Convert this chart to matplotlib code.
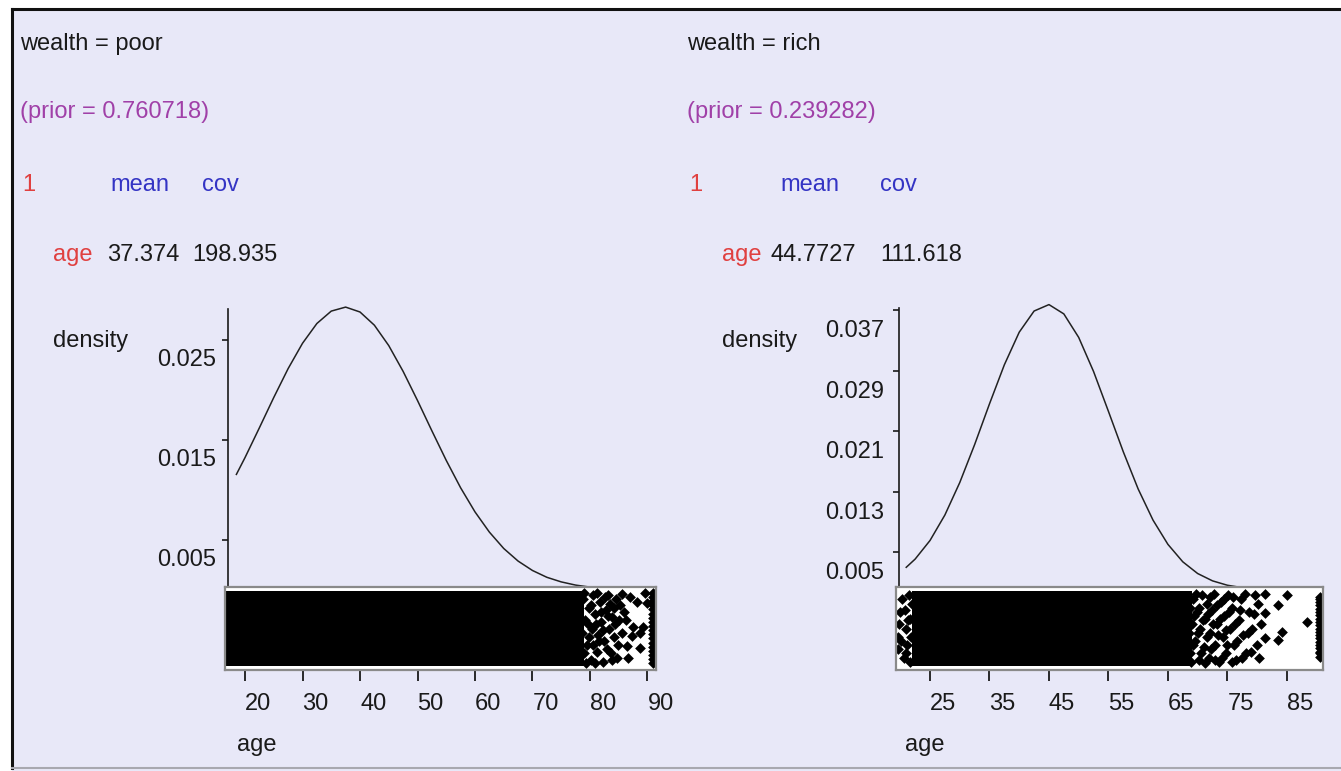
import numpy as np
import matplotlib.pyplot as plt
from matplotlib.transforms import ScaledTranslation
from matplotlib.patches import Rectangle

plt.rcParams['font.family'] = ['Liberation Sans', 'DejaVu Sans']

W, H = 1341, 771
BG = '#e8e8f8'
RED = '#e04040'
BLUE = '#3434c4'
PURPLE = '#a040a8'
INK = '#1a1a1a'

# ---- class "poor" ----
poor_prior = 0.760718
poor_mean = 37.374
poor_cov = 198.935
poor_age = [18.5, 20, 22.5, 25, 27.5, 30, 32.5, 35, 37.5, 40, 42.5, 45, 47.5,
            50, 52.5, 55, 57.5, 60, 62.5, 65, 67.5, 70, 72.5, 75, 77.5, 80]
poor_dens = [0.01156, 0.01324, 0.01622, 0.01925, 0.02214, 0.02467, 0.02665,
             0.02789, 0.02829, 0.02780, 0.02648, 0.02444, 0.02186, 0.01895,
             0.01592, 0.01296, 0.01022, 0.00781, 0.00579, 0.00415, 0.00289,
             0.00195, 0.00127, 0.00081, 0.00049, 0.00029]
poor_yticks = [0.005, 0.015, 0.025]
poor_xticks = [20, 30, 40, 50, 60, 70, 80, 90]
poor_band = (16.6, 79.0)
poor_tail_age = [78.8, 79.2, 79.5, 79.8, 80.1, 80.3, 80.6, 80.9, 81.2, 81.4,
                 81.7, 82.0, 82.3, 82.5, 82.8, 83.1, 83.3, 83.6, 83.9, 84.2,
                 84.5, 84.7, 85.0, 85.5, 86.0, 86.4, 86.6, 87.0, 87.3, 87.5,
                 88.2, 88.7, 88.7, 89.2, 89.5, 89.9,
                 78.6, 78.9, 79.0, 79.3, 79.6, 79.9, 80.2, 80.5, 80.8, 81.0,
                 81.3, 81.6, 81.9, 82.2, 82.6, 82.9, 83.2, 83.5, 83.8, 84.1,
                 84.4, 84.8, 85.2, 85.6, 86.2,
                 91.0, 91.0, 91.0, 91.0, 91.0, 91.0, 91.0, 91.0, 91.0, 91.0,
                 91.0, 91.0, 91.0, 91.0, 91.0, 91.0, 91.0, 91.0]
poor_tail_jit = [0.85, 0.60, 0.30, 0.75, 0.12, 0.50, 0.90, 0.68, 0.22, 0.42,
                 0.82, 0.58, 0.10, 0.35, 0.72, 0.90, 0.50, 0.20, 0.64, 0.40,
                 0.85, 0.15, 0.60, 0.92, 0.70, 0.29, 0.14, 0.88, 0.41, 0.52,
                 0.82, 0.45, 0.26, 0.52, 0.93, 0.81,
                 0.45, 0.20, 0.93, 0.08, 0.55, 0.40, 0.78, 0.30, 0.08, 0.55,
                 0.93, 0.35, 0.70, 0.48, 0.88, 0.25, 0.65, 0.80, 0.12, 0.75,
                 0.55, 0.30, 0.78, 0.45, 0.60,
                 0.08, 0.13, 0.18, 0.23, 0.28, 0.33, 0.38, 0.43, 0.48, 0.53,
                 0.58, 0.63, 0.68, 0.73, 0.78, 0.83, 0.88, 0.93]

# ---- class "rich" ----
rich_prior = 0.239282
rich_mean = 44.7727
rich_cov = 111.618
rich_age = [21, 22.5, 25, 27.5, 30, 32.5, 35, 37.5, 40, 42.5, 45, 47.5, 50,
            52.5, 55, 57.5, 60, 62.5, 65, 67.5, 70, 72.5, 75, 77.5]
rich_dens = [0.00300, 0.00409, 0.00655, 0.00992, 0.01421, 0.01923, 0.02462,
             0.02979, 0.03410, 0.03690, 0.03775, 0.03652, 0.03341, 0.02890,
             0.02363, 0.01828, 0.01336, 0.00924, 0.00604, 0.00373, 0.00218,
             0.00121, 0.00063, 0.00031]
rich_yticks = [0.005, 0.013, 0.021, 0.029, 0.037]
rich_xticks = [25, 35, 45, 55, 65, 75, 85]
rich_band = (22.0, 69.0)
rich_tail_age = [19.6, 19.6, 20.0, 20.3, 20.6, 20.9, 21.2, 21.5, 21.7,
                 19.8, 20.2, 20.8, 21.0, 21.3, 21.6, 21.8, 21.9,
                 68.8, 69.0, 69.3, 69.6, 69.9, 70.2, 70.4, 70.7, 71.0, 71.3,
                 71.6, 71.9, 72.1, 72.4, 72.7, 73.0, 73.3, 73.6, 73.9, 74.2,
                 74.5, 74.8, 75.1, 75.4, 75.8, 76.1, 76.5, 76.9, 77.3, 77.7,
                 78.1, 78.6, 79.1, 79.6, 80.0, 80.4,
                 68.6, 68.7, 68.9, 69.2, 69.4, 69.8, 70.0, 70.3, 70.6, 70.9,
                 71.2, 71.5, 71.8, 72.0, 72.3, 72.6, 72.9, 73.2, 73.5, 73.8,
                 74.1, 74.4, 74.7, 75.0, 75.3, 75.7, 76.0, 76.3, 76.7, 77.1,
                 77.5, 78.0, 78.4, 79.0, 79.4, 80.2, 80.7,
                 81.3, 81.3, 81.3, 83.5, 83.5, 84.2, 85.0, 88.4,
                 90.6, 90.6, 90.6, 90.6, 90.6, 90.6, 90.6, 90.6, 90.6, 90.6,
                 90.6, 90.6, 90.6, 90.6, 90.6, 90.6, 90.6, 90.6, 90.6, 90.6]
rich_tail_jit = [0.25, 0.40, 0.70, 0.85, 0.15, 0.50, 0.30, 0.90, 0.62,
                 0.55, 0.35, 0.72, 0.20, 0.60, 0.10, 0.40, 0.80,
                 0.20, 0.55, 0.85, 0.35, 0.70, 0.12, 0.50, 0.90, 0.28, 0.62,
                 0.80, 0.15, 0.45, 0.72, 0.92, 0.30, 0.55, 0.10, 0.82, 0.40,
                 0.65, 0.20, 0.90, 0.50, 0.75, 0.30, 0.12, 0.60, 0.85, 0.42,
                 0.20, 0.70, 0.50, 0.90, 0.30, 0.15,
                 0.45, 0.75, 0.10, 0.30, 0.65, 0.92, 0.45, 0.75, 0.20, 0.60,
                 0.08, 0.40, 0.68, 0.88, 0.25, 0.55, 0.12, 0.78, 0.42, 0.62,
                 0.15, 0.85, 0.48, 0.30, 0.70, 0.10, 0.88, 0.55, 0.35, 0.72,
                 0.15, 0.92, 0.45, 0.22, 0.68, 0.80, 0.55,
                 0.92, 0.69, 0.39, 0.78, 0.36, 0.46, 0.90, 0.58,
                 0.16, 0.20, 0.22, 0.26, 0.30, 0.34, 0.38, 0.42, 0.46, 0.50,
                 0.54, 0.58, 0.62, 0.66, 0.70, 0.74, 0.78, 0.82, 0.85, 0.88]

fig = plt.figure(figsize=(W / 100, H / 100), dpi=100)
fig.patch.set_facecolor('white')


def fx(px):
    return px / W


def fy(py):
    return 1 - py / H


# lavender panel with its frame, kept behind the axes
fig.patches.append(Rectangle((fx(12), 0), 1.0, fy(9), transform=fig.transFigure,
                             facecolor=BG, edgecolor='none', zorder=-5))
fig.add_artist(plt.Line2D([fx(12), 1], [fy(9), fy(9)], color='#111111', lw=2.2))
fig.add_artist(plt.Line2D([fx(12), fx(12)], [fy(9), fy(768)], color='#111111', lw=2.2))
fig.add_artist(plt.Line2D([fx(12), 1], [fy(768), fy(768)], color='#a8a8b0', lw=1.5))

FS = 17


def header(x0, title, prior, mean, cov, xs):
    fig.text(fx(x0), fy(44), title, color=INK, fontsize=FS, va='center')
    fig.text(fx(x0), fy(112), '(prior = %s)' % prior, color=PURPLE, fontsize=FS, va='center')
    fig.text(fx(x0 + 2), fy(185), '1', color=RED, fontsize=FS, va='center')
    fig.text(fx(xs[0]), fy(185), 'mean', color=BLUE, fontsize=FS, va='center')
    fig.text(fx(xs[1]), fy(185), 'cov', color=BLUE, fontsize=FS, va='center')
    fig.text(fx(xs[2]), fy(255), 'age', color=RED, fontsize=FS, va='center')
    fig.text(fx(xs[3]), fy(255), mean, color=INK, fontsize=FS, va='center')
    fig.text(fx(xs[4]), fy(255), cov, color=INK, fontsize=FS, va='center')


def panel(left, right, xlim, top_px, ylim_top, ages, dens, yticks, xticks,
          band, tail_age, tail_jit, dens_label_x, ylab_right, ylab_drop):
    # density curve
    ax = fig.add_axes([fx(left), fy(590), fx(right) - fx(left), fy(top_px) - fy(590)])
    ax.set_facecolor('none')
    ax.set_xlim(*xlim)
    ax.set_ylim(0, ylim_top)
    for s in ['top', 'right', 'bottom']:
        ax.spines[s].set_visible(False)
    ax.spines['left'].set_color(INK)
    ax.spines['left'].set_linewidth(1.2)
    ax.spines['left'].set_position(('outward', -2))
    ax.set_xticks([])
    ax.set_yticks(yticks)
    ax.set_yticklabels([])
    ax.tick_params(axis='y', direction='out', length=4, width=1.2, color=INK)
    ax.plot(ages, dens, color='#222222', lw=1.1, clip_on=False)
    off = ScaledTranslation(0, -ylab_drop / 100, fig.dpi_scale_trans)
    lab_x = (ylab_right - left) / (right - left)
    for v in yticks:
        ax.text(lab_x, v, ('%.3f' % v), transform=ax.get_yaxis_transform() + off,
                ha='right', va='center', fontsize=FS, color=INK, clip_on=False)
    fig.text(fx(dens_label_x), fy(341), 'density', color=INK, fontsize=FS, va='center')

    # jittered strip of the observations
    sx = fig.add_axes([fx(left), fy(670), fx(right) - fx(left), fy(587) - fy(670)])
    sx.set_facecolor('white')
    sx.set_xlim(*xlim)
    sx.set_ylim(0, 1)
    for s in sx.spines.values():
        s.set_color('#8a8a8a')
        s.set_linewidth(1.6)
    sx.set_yticks([])
    sx.set_xticks(xticks)
    sx.set_xticklabels([])
    sx.tick_params(axis='x', direction='out', length=8, width=1.3, color=INK)
    sx.fill_between(band, 0.05, 0.95, color='black', lw=0)
    sx.scatter(tail_age, tail_jit, marker='D', s=30, color='black', lw=0)
    xoff = ScaledTranslation(0, -34 / 100, fig.dpi_scale_trans)
    for v in xticks:
        sx.text(v, 0, str(v), transform=sx.get_xaxis_transform() + xoff,
                ha='left', va='center', fontsize=FS, color=INK, clip_on=False)
    return ax, sx


header(20, 'wealth = poor', poor_prior, '%g' % poor_mean, '%g' % poor_cov,
       [110, 202, 53, 107, 192])
header(687, 'wealth = rich', rich_prior, '%g' % rich_mean, '%g' % rich_cov,
       [780, 880, 722, 770, 880])

panel(225, 656, (16.52, 91.48), 309, 0.0281, poor_age, poor_dens, poor_yticks,
      poor_xticks, poor_band, poor_tail_age, poor_tail_jit, 53, 216, 20)
panel(896, 1323, (19.28, 91.08), 308, 0.0373, rich_age, rich_dens, rich_yticks,
      rich_xticks, rich_band, rich_tail_age, rich_tail_jit, 722, 884, 21)

fig.text(fx(237), fy(745), 'age', color=INK, fontsize=FS, va='center')
fig.text(fx(905), fy(745), 'age', color=INK, fontsize=FS, va='center')

fig.savefig('out.png', dpi=100, facecolor=fig.get_facecolor())
